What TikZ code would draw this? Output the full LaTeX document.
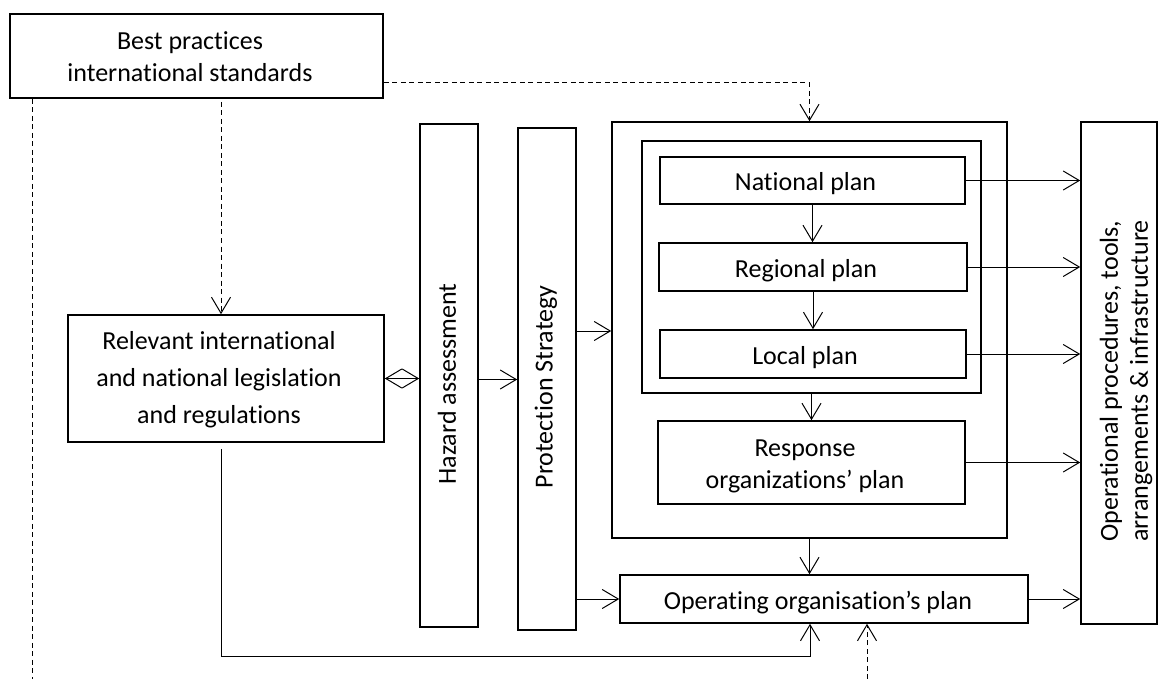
\documentclass[tikz,border=0pt]{standalone}
\usepackage{fontspec}
\setmainfont{Carlito}[Ligatures=NoCommon]
\usetikzlibrary{arrows.meta}
\tikzset{
  box/.style={draw, line width=1.6pt, inner sep=0pt},
  txt/.style={inner sep=0pt, align=center, font=\fontsize{26}{32}\selectfont},
  arr/.style={line width=1pt, -{Straight Barb[length=16pt,width=19pt]}},
  darr/.style={line width=1pt, {Straight Barb[length=16pt,width=19pt]}-{Straight Barb[length=16pt,width=19pt]}},
  dasharr/.style={line width=1pt, dash pattern=on 5pt off 3.5pt, -{Straight Barb[length=16pt,width=19pt]}},
  dashline/.style={line width=1pt, dash pattern=on 5pt off 3.5pt},
}
\begin{document}
\begin{tikzpicture}[x=1pt,y=-1pt]
\useasboundingbox (0,0) rectangle (1159,679);
% boxes
\node[box, minimum width=373pt, minimum height=84pt] (best) at (196.5,56) {};
\node[box, minimum width=316pt, minimum height=127pt] (rel) at (226,378.5) {};
\node[box, minimum width=58pt, minimum height=503pt] (haz) at (449,375.5) {};
\node[box, minimum width=58pt, minimum height=502pt] (prot) at (547,379) {};
\node[box, minimum width=395pt, minimum height=416pt] (outer) at (809.5,330) {};
\node[box, minimum width=339pt, minimum height=252pt] (inner) at (811.5,267) {};
\node[box, minimum width=305pt, minimum height=47pt] (nat) at (812.5,180.5) {};
\node[box, minimum width=308pt, minimum height=48pt] (reg) at (813,267) {};
\node[box, minimum width=306pt, minimum height=48pt] (loc) at (813,354) {};
\node[box, minimum width=307pt, minimum height=83pt] (resp) at (811.5,462.5) {};
\node[box, minimum width=408pt, minimum height=48pt] (oper) at (824,599) {};
\node[box, minimum width=76pt, minimum height=502pt] (ops) at (1119,373) {};
% texts
\node[txt] (bestT) at (190,57) {Best practices\\international standards};
\node[txt, font=\fontsize{26}{37}\selectfont] (relT) at (219,380) {Relevant international\\and national legislation\\and regulations};
\node[txt, rotate=90] (hazT) at (447,384) {Hazard assessment};
\node[txt, rotate=90] (protT) at (546,387) {Protection Strategy};
\node[txt] (natT) at (805.5,184) {National plan};
\node[txt] (regT) at (806,271) {Regional plan};
\node[txt] (locT) at (805,358) {Local plan};
\node[txt] (respT) at (805,466.5) {Response\\organizations’ plan};
\node[txt] (operT) at (818,603) {Operating organisation’s plan};
\node[txt, rotate=90, font=\fontsize{26}{30}\selectfont] (opsT) at (1126,381) {Operational procedures, tools,\\arrangements \& infrastructure};
% helper coordinates
\coordinate (d1) at (32,679);
\coordinate (d2) at (221,102);
\coordinate (d3) at (867,679);
\coordinate (pa) at (0,331);
\coordinate (ret) at (0,656);
% dashed connectors
\draw[dashline] (d1 |- best.south) -- (d1);
\draw[dasharr] (d2) -- (d2 |- rel.north);
\draw[dasharr] ([yshift=-27pt]best.east) -| (outer.north);
\draw[dasharr] (d3) -- (d3 |- oper.south);
% solid connectors
\draw[darr] (rel.east) -- (rel.east -| haz.west);
\draw[arr] ([yshift=-4pt]haz.east) -- ([yshift=-4pt]haz.east -| prot.west);
\draw[arr] (prot.east |- pa) -- (outer.west |- pa);
\draw[arr] (oper.west -| prot.east) -- (oper.west);
\draw[arr] (outer.south) -- (outer.south |- oper.north);
\draw[arr] (nat.south) -- (nat.south |- reg.north);
\draw[arr] (reg.south) -- (reg.south |- loc.north);
\draw[arr] (inner.south) -- (inner.south |- resp.north);
\draw[arr] (nat.east) -- (nat.east -| ops.west);
\draw[arr] (reg.east) -- (reg.east -| ops.west);
\draw[arr] (loc.east) -- (loc.east -| ops.west);
\draw[arr] (resp.east) -- (resp.east -| ops.west);
\draw[arr] (oper.east) -- (oper.east -| ops.west);
\draw[arr] ([xshift=-5pt,yshift=-6pt]rel.south) |- ([xshift=-14pt]oper.south |- ret) -- ([xshift=-14pt]oper.south);
\end{tikzpicture}
\end{document}
